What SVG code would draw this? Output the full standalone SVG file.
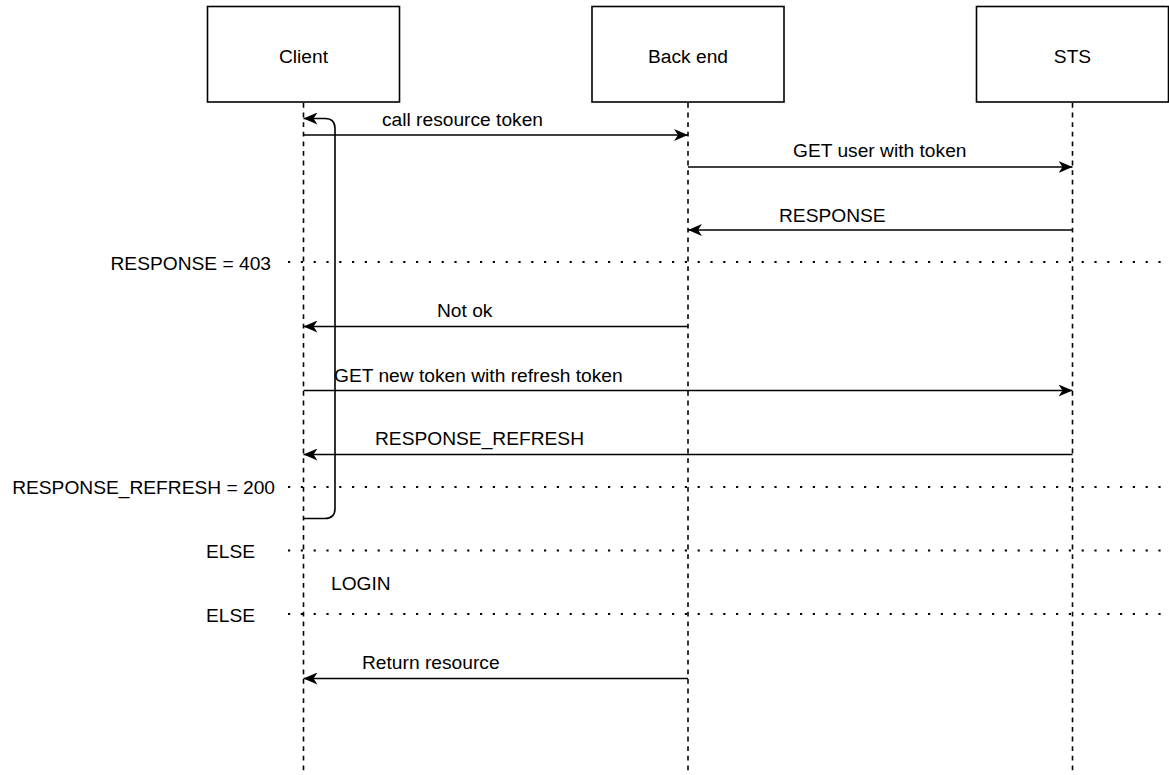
<svg xmlns="http://www.w3.org/2000/svg" width="1169" height="775" viewBox="0 0 1169 775">
<style>
  .box { fill: #ffffff; stroke: #000000; stroke-width: 1.6; }
  .life { fill: none; stroke: #000000; stroke-width: 1.6; stroke-dasharray: 4.8 4.8; }
  .msg { fill: none; stroke: #000000; stroke-width: 1.6; marker-end: url(#arrow); }
  .sep { fill: none; stroke: #000000; stroke-width: 2.2; stroke-dasharray: 2.2 10.6; }
  text { font-family: "Liberation Sans", Arial, sans-serif; font-size: 19.2px; fill: #000000; }
  .c { text-anchor: middle; }
  .r { text-anchor: end; }
</style>
<defs>
  <marker id="arrow" markerUnits="userSpaceOnUse" viewBox="0 0 14 12" refX="14" refY="6" markerWidth="14" markerHeight="12" orient="auto">
    <path d="M0,0 L14,6 L0,12 L4,6 Z" fill="#000000"/>
  </marker>
</defs>
<rect width="1169" height="775" fill="#ffffff"/>

<g id="client">
  <line class="life" x1="303.5" y1="103" x2="303.5" y2="775"/>
  <rect class="box" x="207.5" y="6.5" width="192" height="95.5"/>
  <text class="c" x="303.5" y="62.5">Client</text>
</g>
<g id="backend">
  <line class="life" x1="688" y1="103" x2="688" y2="775"/>
  <rect class="box" x="592" y="6.5" width="192" height="95.5"/>
  <text class="c" x="688" y="62.5">Back end</text>
</g>
<g id="sts">
  <line class="life" x1="1072.5" y1="103" x2="1072.5" y2="775"/>
  <rect class="box" x="976.5" y="6.5" width="192" height="95.5"/>
  <text class="c" x="1072.5" y="62.5">STS</text>
</g>

<g id="fragments">
  <line class="sep" x1="288" y1="262" x2="1169" y2="262"/>
  <text class="r" x="271" y="270">RESPONSE = 403</text>
  <line class="sep" x1="288" y1="487" x2="1169" y2="487"/>
  <text class="r" x="275" y="494">RESPONSE_REFRESH = 200</text>
  <line class="sep" x1="288" y1="550.5" x2="1169" y2="550.5"/>
  <text class="r" x="255" y="558">ELSE</text>
  <text x="331" y="590">LOGIN</text>
  <line class="sep" x1="288" y1="614" x2="1169" y2="614"/>
  <text class="r" x="255" y="622">ELSE</text>
</g>

<g id="connectors">
  <path class="msg" d="M303.5,518.5 L325,518.5 Q335,518.5 335,508.5 L335,128.5 Q335,118.5 325,118.5 L303.5,118.5"/>
  <line class="msg" x1="303.5" y1="135" x2="688" y2="135"/>
  <text x="382" y="126">call resource token</text>
  <line class="msg" x1="688" y1="167" x2="1072.5" y2="167"/>
  <text x="793" y="157">GET user with token</text>
  <line class="msg" x1="1072.5" y1="230" x2="688" y2="230"/>
  <text x="779" y="222">RESPONSE</text>
  <line class="msg" x1="688" y1="326.5" x2="303.5" y2="326.5"/>
  <text x="437" y="317">Not ok</text>
  <line class="msg" x1="303.5" y1="390.5" x2="1072.5" y2="390.5"/>
  <text x="334" y="382">GET new token with refresh token</text>
  <line class="msg" x1="1072.5" y1="454.5" x2="303.5" y2="454.5"/>
  <text x="375" y="445">RESPONSE_REFRESH</text>
  <line class="msg" x1="688" y1="678.5" x2="303.5" y2="678.5"/>
  <text x="362" y="669">Return resource</text>
</g>
</svg>
